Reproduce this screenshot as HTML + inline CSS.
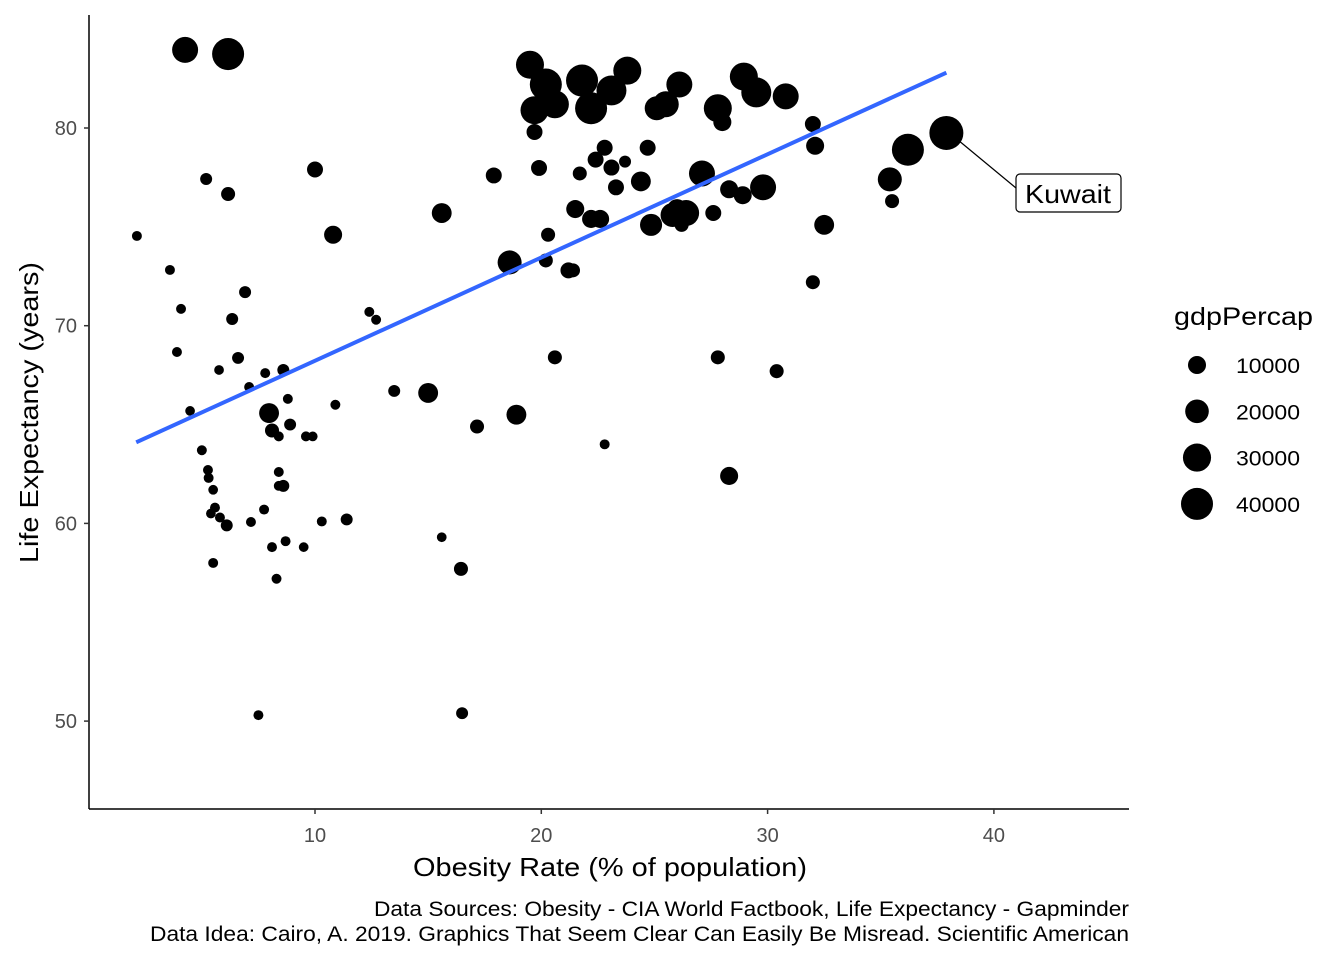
<!DOCTYPE html>
<html><head><meta charset="utf-8"><style>
html,body{margin:0;padding:0;background:#fff;}
svg{display:block;font-family:"Liberation Sans",Arial,sans-serif;}
</style></head><body>
<svg id="chart" width="1344" height="960" viewBox="0 0 1344 960">
<g id="points"></g>
<line id="trend" stroke="#3366FF" stroke-width="4" stroke-linecap="butt"/>
<g id="axes"></g>
<g id="kuwait"></g>
<text x="413" y="876" font-size="26" textLength="394" lengthAdjust="spacingAndGlyphs" fill="#000">Obesity Rate (% of population)</text>
<text transform="translate(38,563) rotate(-90)" font-size="26" textLength="301" lengthAdjust="spacingAndGlyphs" fill="#000">Life Expectancy (years)</text>
<text x="1174" y="325" font-size="25" textLength="139" lengthAdjust="spacingAndGlyphs" fill="#000">gdpPercap</text>
<g id="legend"></g>
<text x="374" y="916" font-size="21" textLength="755" lengthAdjust="spacingAndGlyphs" fill="#000">Data Sources: Obesity - CIA World Factbook, Life Expectancy - Gapminder</text>
<text x="150" y="941" font-size="21" textLength="979" lengthAdjust="spacingAndGlyphs" fill="#000">Data Idea: Cairo, A. 2019. Graphics That Seem Clear Can Easily Be Misread. Scientific American</text>
</svg>
<script>
const obesity=[4.26,6.16,2.13,3.59,4.08,3.9,4.48,5.19,6.16,6.91,6.34,6.6,5.76,7.09,7.8,7.97,8.1,8.4,8.6,8.8,8.9,9.6,9.9,5.0,5.27,5.3,5.5,5.58,5.4,5.8,6.1,5.5,7.17,7.75,8.4,8.6,8.4,8.1,8.7,9.5,8.3,7.5,10.0,10.8,10.9,10.3,11.4,12.4,12.7,13.5,15.0,15.6,15.6,16.45,16.5,17.16,17.9,18.6,18.9,19.5,19.7,19.9,19.7,20.3,20.2,20.6,20.2,20.6,21.2,21.4,21.5,21.7,21.8,22.2,22.4,22.2,22.6,22.8,22.8,23.1,23.1,23.3,23.7,23.8,24.4,24.7,24.85,25.1,25.5,25.8,26.0,26.1,26.2,26.4,27.1,27.8,27.6,28.0,27.8,28.3,28.3,28.9,28.95,29.5,29.8,30.4,30.8,32.0,32.1,32.0,32.5,35.4,35.5,36.2,37.9];
const lifeExp=[83.95,83.74,74.54,72.82,70.85,68.67,65.69,77.42,76.66,71.7,70.34,68.37,67.76,66.9,67.6,65.58,64.7,64.4,67.76,66.3,65.0,64.4,64.4,63.7,62.7,62.3,61.7,60.8,60.5,60.3,59.9,58.0,60.07,60.7,61.9,61.9,62.6,58.8,59.1,58.8,57.2,50.3,77.9,74.6,66.0,60.1,60.2,70.7,70.3,66.7,66.6,75.7,59.3,57.7,50.4,64.9,77.6,73.2,65.5,83.2,79.8,77.98,80.9,74.6,73.3,68.4,82.2,81.2,72.8,72.8,75.9,77.7,82.4,81.0,78.4,75.4,75.4,79.0,64.0,81.9,78.0,77.0,78.3,82.9,77.3,79.0,75.1,81.0,81.2,75.6,75.9,82.2,75.1,75.7,77.7,81.0,75.7,80.3,68.4,62.4,76.9,76.6,82.6,81.8,77.0,67.7,81.6,80.2,79.1,72.2,75.1,77.4,76.3,78.9,79.75];
const gdp=[25000,40000,300,300,300,300,100,2200,4500,2200,2200,2200,100,300,300,13000,4500,300,2200,300,2200,300,100,300,300,300,100,300,100,300,2200,300,300,300,300,2200,300,300,300,100,300,300,7000,10000,300,300,2200,300,300,2200,13000,13000,100,4500,2200,4500,7000,20800,13000,29700,7000,7000,29700,4500,4500,4500,40000,29700,7000,4500,10000,4500,40000,40000,7000,10000,10000,7000,300,34600,7000,7000,2200,29700,13000,7000,17000,20800,25000,20800,13000,25000,4500,25000,25000,29700,7000,10000,4500,10000,10000,10000,29700,34600,25000,4500,25000,7000,10000,4500,13000,20800,4500,40000,45600];
const xTicks=[10,20,30,40];
const yTicks=[50,60,70,80];
const trendX=[2.1,37.9];
const trendY=[64.1,82.8];
const legendVals=[10000,20000,30000,40000];

const NS="http://www.w3.org/2000/svg";
const X=v=>88.7+v*22.63;
const Y=v=>128+(80-v)*19.77;
const R=g=>Math.max(4.3,Math.sqrt(23+0.00583*g));
function mk(tag,attrs,parent){const e=document.createElementNS(NS,tag);for(const k in attrs)e.setAttribute(k,attrs[k]);parent.appendChild(e);return e;}

const pts=document.getElementById('points');
obesity.forEach((o,i)=>{
  const c=mk('circle',{cx:X(o),cy:Y(lifeExp[i]),r:R(gdp[i]),fill:'#000'},pts);
  
  
});
const t=document.getElementById('trend');
t.setAttribute('x1',X(trendX[0]));t.setAttribute('y1',Y(trendY[0]));
t.setAttribute('x2',X(trendX[1]));t.setAttribute('y2',Y(trendY[1]));

const ax=document.getElementById('axes');
const xl=mk('line',{x1:89,y1:809,x2:1129,y2:809,stroke:'#000','stroke-width':1.5},ax);


const yl=mk('line',{x1:89,y1:15,x2:89,y2:809,stroke:'#000','stroke-width':1.5},ax);


xTicks.forEach(v=>{
  const tk=mk('line',{x1:X(v),y1:809,x2:X(v),y2:814,stroke:'#333','stroke-width':1.5},ax);
  
  
  const tx=mk('text',{x:X(v),y:842,'font-size':20,'text-anchor':'middle',fill:'#4d4d4d'},ax);
  tx.textContent=v;
  
  
});
yTicks.forEach(v=>{
  const tk=mk('line',{x1:84,y1:Y(v),x2:89,y2:Y(v),stroke:'#333','stroke-width':1.5},ax);
  
  
  const tx=mk('text',{x:77,y:Y(v)+7,'font-size':20,'text-anchor':'end',fill:'#4d4d4d'},ax);
  tx.textContent=v;
  
  
});

const kw=document.getElementById('kuwait');
const kl=mk('line',{x1:958,y1:140,x2:1016,y2:188,stroke:'#000','stroke-width':1.2},kw);


const kb=mk('rect',{x:1016,y:174,width:105,height:38,rx:4,fill:'#fff',stroke:'#000','stroke-width':1.2},kw);


const kt=mk('text',{x:1025,y:203,'font-size':26,textLength:86,lengthAdjust:'spacingAndGlyphs',fill:'#000'},kw);
kt.textContent='Kuwait';



const lg=document.getElementById('legend');
legendVals.forEach((v,i)=>{
  const cy=365+i*46.3;
  const c=mk('circle',{cx:1197,cy:cy,r:R(v),fill:'#000'},lg);
  
  
  const tx=mk('text',{x:1236,y:cy+8,'font-size':21,textLength:64,lengthAdjust:'spacingAndGlyphs',fill:'#000'},lg);
  tx.textContent=v;
  
  
});
</script>
</body></html>
